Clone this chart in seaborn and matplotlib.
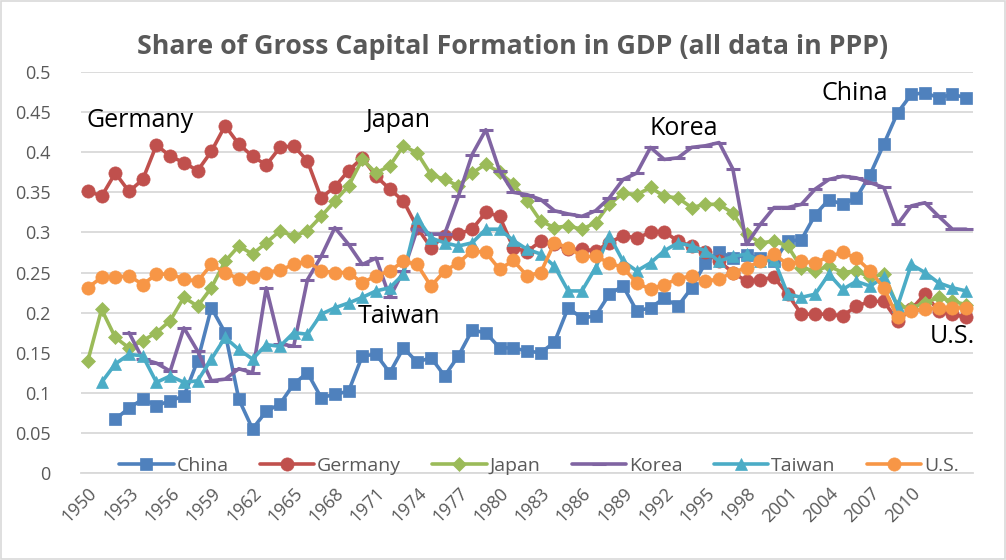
import matplotlib

matplotlib.use("Agg")
import matplotlib.pyplot as plt
import numpy as np
import pandas as pd
import seaborn as sns

nan = np.nan
years = list(range(1950, 2015))

china = [nan, nan, 0.067, 0.081, 0.092, 0.084, 0.090, 0.096, 0.140, 0.206,
         0.175, 0.092, 0.055, 0.077, 0.086, 0.111, 0.125, 0.094, 0.098, 0.102,
         0.146, 0.148, 0.125, 0.156, 0.138, 0.144, 0.121, 0.146, 0.178, 0.175,
         0.156, 0.156, 0.152, 0.150, 0.163, 0.206, 0.193, 0.196, 0.223, 0.233,
         0.202, 0.206, 0.218, 0.208, 0.231, 0.262, 0.276, 0.268, 0.272, 0.268,
         0.264, 0.289, 0.291, 0.322, 0.341, 0.335, 0.343, 0.372, 0.410, 0.449,
         0.472, 0.474, 0.468, 0.472, 0.468]
germany = [0.352, 0.345, 0.374, 0.351, 0.366, 0.409, 0.395, 0.387, 0.377, 0.401,
           0.433, 0.410, 0.395, 0.384, 0.406, 0.408, 0.389, 0.343, 0.357, 0.377,
           0.393, 0.370, 0.354, 0.339, 0.306, 0.281, 0.296, 0.298, 0.304, 0.325,
           0.320, 0.281, 0.276, 0.289, 0.285, 0.279, 0.279, 0.277, 0.287, 0.296,
           0.293, 0.300, 0.301, 0.289, 0.283, 0.275, 0.264, 0.250, 0.239, 0.241,
           0.244, 0.223, 0.198, 0.198, 0.198, 0.196, 0.208, 0.214, 0.214, 0.190,
           0.204, 0.223, 0.202, 0.198, 0.194]
japan = [0.140, 0.204, 0.169, 0.156, 0.165, 0.175, 0.190, 0.219, 0.208, 0.231,
         0.264, 0.283, 0.273, 0.287, 0.302, 0.295, 0.302, 0.320, 0.339, 0.358,
         0.391, 0.374, 0.383, 0.408, 0.399, 0.372, 0.366, 0.358, 0.374, 0.385,
         0.375, 0.360, 0.339, 0.314, 0.306, 0.308, 0.304, 0.312, 0.335, 0.349,
         0.347, 0.356, 0.345, 0.343, 0.331, 0.335, 0.335, 0.324, 0.298, 0.287,
         0.289, 0.283, 0.256, 0.252, 0.258, 0.250, 0.252, 0.244, 0.248, 0.208,
         0.206, 0.212, 0.219, 0.214, 0.210]
korea = [nan, nan, nan, 0.175, 0.142, 0.137, 0.127, 0.181, 0.152, 0.115,
         0.117, 0.130, 0.125, 0.231, 0.161, 0.158, 0.241, 0.270, 0.306, 0.285,
         0.260, 0.268, 0.219, 0.252, 0.304, 0.298, 0.298, 0.345, 0.397, 0.428,
         0.377, 0.350, 0.347, 0.341, 0.327, 0.323, 0.320, 0.327, 0.343, 0.366,
         0.374, 0.406, 0.391, 0.393, 0.406, 0.408, 0.412, 0.379, 0.285, 0.310,
         0.331, 0.331, 0.335, 0.354, 0.366, 0.370, 0.368, 0.362, 0.356, 0.310,
         0.333, 0.337, 0.320, 0.304, 0.304]
taiwan = [nan, 0.113, 0.136, 0.148, 0.146, 0.113, 0.121, 0.113, 0.115, 0.142,
          0.169, 0.154, 0.142, 0.160, 0.158, 0.175, 0.173, 0.198, 0.206, 0.212,
          0.219, 0.227, 0.231, 0.248, 0.318, 0.293, 0.287, 0.283, 0.287, 0.304,
          0.304, 0.290, 0.279, 0.273, 0.258, 0.227, 0.227, 0.256, 0.296, 0.264,
          0.252, 0.262, 0.277, 0.287, 0.283, 0.277, 0.264, 0.270, 0.273, 0.264,
          0.266, 0.223, 0.219, 0.223, 0.248, 0.229, 0.239, 0.233, 0.244, 0.208,
          0.260, 0.250, 0.237, 0.231, 0.227]
us = [0.231, 0.244, 0.244, 0.246, 0.235, 0.248, 0.248, 0.242, 0.239, 0.260,
      0.250, 0.242, 0.244, 0.250, 0.253, 0.260, 0.264, 0.252, 0.250, 0.250,
      0.237, 0.246, 0.252, 0.264, 0.260, 0.233, 0.252, 0.262, 0.277, 0.275,
      0.254, 0.265, 0.246, 0.250, 0.287, 0.281, 0.270, 0.270, 0.262, 0.256,
      0.237, 0.229, 0.235, 0.242, 0.246, 0.239, 0.242, 0.250, 0.256, 0.264,
      0.273, 0.260, 0.264, 0.262, 0.270, 0.275, 0.268, 0.252, 0.231, 0.194,
      0.202, 0.204, 0.206, 0.206, 0.206]

countries = ["China", "Germany", "Japan", "Korea", "Taiwan", "U.S."]
series = [china, germany, japan, korea, taiwan, us]
colors = ["#4F81BD", "#C0504D", "#9BBB59", "#8064A2", "#4BACC6", "#F79646"]
markers = ["s", "o", "D", "_", "^", "o"]

y_ticks = [0, 0.05, 0.1, 0.15, 0.2, 0.25, 0.3, 0.35, 0.4, 0.45, 0.5]
x_ticks = list(range(1950, 2011, 3))

# label text, year, value
notes = [("Germany", 1953.8, 0.439), ("Japan", 1972.6, 0.439),
         ("Korea", 1993.4, 0.429), ("China", 2005.9, 0.473),
         ("Taiwan", 1972.7, 0.195), ("U.S.", 2013.0, 0.170)]

sns.set_style("white")
plt.rcParams["font.family"] = ["Open Sans", "DejaVu Sans"]

grey = "#595959"
fig = plt.figure(figsize=(10.06, 5.6), dpi=100)
ax = fig.add_axes([81 / 1006, 1 - 473 / 560, 892 / 1006, 401 / 560])

sizes = {"s": 9, "o": 9.5, "D": 7.5, "_": 10, "^": 9}
for name, vals, color, mk in zip(countries, series, colors, markers):
    df = pd.DataFrame({"year": years, "share": vals}).dropna()
    sns.lineplot(data=df, x="year", y="share", ax=ax, color=color, label=name,
                 estimator=None, linewidth=2.6, marker=mk, markersize=sizes[mk],
                 markeredgecolor=color, markeredgewidth=2.2 if mk == "_" else 0.5,
                 markerfacecolor=color)

ax.set_xlim(1949.5, 2014.5)
ax.set_ylim(0, 0.5)
ax.set_yticks(y_ticks)
ax.set_yticklabels([f"{v:g}" for v in y_ticks])
ax.set_xticks(x_ticks)
ax.set_xticklabels([str(y) for y in x_ticks], rotation=45, ha="right",
                   va="top", rotation_mode="anchor")
ax.tick_params(axis="both", length=0, labelsize=13, colors=grey)
ax.tick_params(axis="y", pad=22)
ax.tick_params(axis="x", pad=8)
ax.grid(axis="y", color="#D9D9D9", linewidth=1.3)
ax.set_axisbelow(True)
for side in ["left", "right", "top"]:
    ax.spines[side].set_visible(False)
ax.spines["bottom"].set_color("#D9D9D9")
ax.spines["bottom"].set_linewidth(1.3)
ax.set_xlabel("")
ax.set_ylabel("")

for text, x, y in notes:
    ax.text(x, y, text, fontsize=18, color="black", ha="center", va="center")

leg = ax.legend(loc="center", bbox_to_anchor=(539 / 1006, 1 - 466 / 560),
                bbox_transform=fig.transFigure, ncol=6, frameon=False,
                fontsize=14, handlelength=2.8, handletextpad=0.15,
                columnspacing=1.6, borderpad=0)
for t in leg.get_texts():
    t.set_color(grey)

fig.text(513 / 1006, 1 - 47 / 560,
         "Share of Gross Capital Formation in GDP (all data in PPP)",
         fontsize=19.3, fontweight="bold", color=grey, ha="center", va="center")

fig.patches.append(plt.Rectangle((0.001, 0.002), 0.998, 0.996, transform=fig.transFigure,
                                 fill=False, edgecolor="#D9D9D9", linewidth=1.2))

fig.savefig("out.png", dpi=100)
